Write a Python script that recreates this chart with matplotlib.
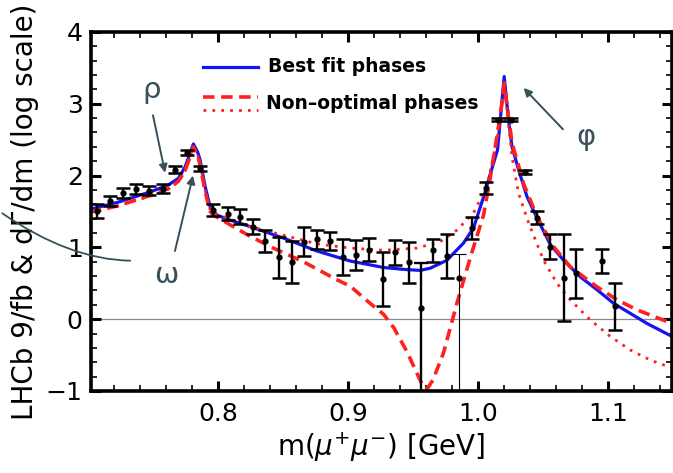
import numpy as np
import matplotlib
matplotlib.use("Agg")
import matplotlib.pyplot as plt
from matplotlib.ticker import MultipleLocator

plt.rcParams['font.family'] = ['DejaVu Sans']
plt.rcParams['axes.unicode_minus'] = True

# 데이터 점 (질량, 값, 오차)
mass = [0.7064, 0.7166, 0.7269, 0.7367, 0.7469, 0.7572, 0.7667, 0.7757, 0.7859,
        0.7960, 0.8072, 0.8167, 0.8265, 0.8360, 0.8463, 0.8565, 0.8662, 0.8762,
        0.8862, 0.8958, 0.9060, 0.9158, 0.9266, 0.9360, 0.9463, 0.9655, 0.9758,
        0.9955, 1.0058, 1.0150, 1.0250, 1.0361, 1.0451, 1.0553, 1.0656, 1.0751,
        1.0950, 1.1049]
value = [1.51, 1.65, 1.76, 1.81, 1.79, 1.82, 2.08, 2.32, 2.10,
         1.52, 1.47, 1.43, 1.29, 1.09, 0.86, 0.80, 1.08, 1.11,
         1.09, 0.87, 0.89, 0.97, 0.56, 0.93, 0.79, 0.96, 0.88,
         1.27, 1.83, 2.78, 2.78, 2.05, 1.41, 1.01, 0.58, 0.64,
         0.81, 0.18]
error = [0.10, 0.07, 0.07, 0.07, 0.06, 0.06, 0.05, 0.04, 0.04,
         0.08, 0.09, 0.10, 0.10, 0.15, 0.29, 0.29, 0.20, 0.13,
         0.13, 0.25, 0.21, 0.16, 0.37, 0.17, 0.28, 0.16, 0.30,
         0.16, 0.08, 0.02, 0.02, 0.03, 0.09, 0.17, 0.60, 0.34,
         0.17, 0.33]

# 아래쪽 오차가 축 밖으로 나가는 점
open_mass = [0.9560, 0.9855]
open_value = [0.15, 0.58]
open_up = [0.63, 0.33]
open_width = [1.7, 0.8]

# 최적 위상 곡선
best_m = [0.7012, 0.7230, 0.7487, 0.7615, 0.7692, 0.7744, 0.7780, 0.7808, 0.7840,
          0.7859, 0.7898, 0.7936, 0.7988, 0.8090, 0.8244, 0.8500, 0.8757, 0.9014,
          0.9270, 0.9450, 0.9553, 0.9630, 0.9758, 0.9886, 0.9963, 1.0040, 1.0105,
          1.0148, 1.0169, 1.0199, 1.0232, 1.0259, 1.0310, 1.0374, 1.0451, 1.0554,
          1.0656, 1.0784, 1.0913, 1.1041, 1.1170, 1.1298, 1.1490]
best_v = [1.53, 1.63, 1.78, 1.87, 1.96, 2.12, 2.30, 2.44, 2.33,
          2.22, 1.85, 1.57, 1.45, 1.38, 1.29, 1.13, 0.95, 0.81,
          0.72, 0.69, 0.68, 0.71, 0.82, 1.06, 1.27, 1.70, 2.10,
          2.36, 2.78, 3.38, 2.78, 2.40, 2.08, 1.71, 1.41, 1.04,
          0.82, 0.59, 0.41, 0.22, 0.08, -0.06, -0.24]

# 비최적 위상 곡선 1 (파선)
dash_m = [0.7012, 0.7230, 0.7487, 0.7615, 0.7692, 0.7744, 0.7780, 0.7808, 0.7840,
          0.7859, 0.7898, 0.7936, 0.7962, 0.8219, 0.8398, 0.8654, 0.8911, 0.9014,
          0.9168, 0.9270, 0.9350, 0.9450, 0.9527, 0.9578, 0.9610, 0.9650, 0.9732,
          0.9835, 0.9937, 1.0040, 1.0090, 1.0143, 1.0170, 1.0199, 1.0230, 1.0260,
          1.0348, 1.0451, 1.0579, 1.0707, 1.0913, 1.1067, 1.1221, 1.1490]
dash_v = [1.49, 1.58, 1.73, 1.82, 1.92, 2.07, 2.25, 2.40, 2.28,
          2.15, 1.78, 1.50, 1.45, 1.18, 1.01, 0.80, 0.55, 0.46,
          0.22, 0.07, -0.12, -0.45, -0.75, -0.95, -0.96, -0.85, -0.47,
          0.22, 0.85, 1.45, 1.95, 2.55, 2.85, 3.27, 2.85, 2.45,
          1.89, 1.43, 1.01, 0.73, 0.45, 0.27, 0.13, -0.06]

# 비최적 위상 곡선 2 (점선)
dot_m = [0.7012, 0.7230, 0.7487, 0.7615, 0.7692, 0.7744, 0.7780, 0.7808, 0.7840,
         0.7859, 0.7898, 0.7936, 0.7962, 0.8219, 0.8500, 0.8757, 0.9014, 0.9270,
         0.9527, 0.9707, 0.9835, 0.9963, 1.0066, 1.0143, 1.0170, 1.0199, 1.0230,
         1.0260, 1.0310, 1.0387, 1.0502, 1.0605, 1.0707, 1.0861, 1.1015, 1.1170,
         1.1324, 1.1490]
dot_v = [1.48, 1.58, 1.72, 1.81, 1.91, 2.06, 2.25, 2.40, 2.29,
         2.17, 1.80, 1.53, 1.48, 1.30, 1.17, 1.05, 0.99, 0.96,
         0.99, 1.08, 1.24, 1.48, 1.85, 2.50, 2.80, 3.30, 2.75,
         2.25, 1.75, 1.34, 0.82, 0.50, 0.27, -0.01, -0.24, -0.43,
         -0.57, -0.68]

x_ticks = [0.8, 0.9, 1.0, 1.1]
x_ticklabels = ['0.8', '0.9', '1.0', '1.1']
y_ticks = [-1, 0, 1, 2, 3, 4]

ink = '#37505a'
blue = '#1414f0'
red = '#ff2020'

fig = plt.figure(figsize=(6.73, 4.73), dpi=100)
ax = fig.add_axes([0.1352, 0.1734, 0.8633, 0.759])

ax.axhline(0, color='#8a8a8a', lw=0.9, zorder=1)

ax.plot(best_m, best_v, color=blue, lw=2.3, zorder=2)
ax.plot(dash_m, dash_v, color=red, lw=2.6, ls=(0, (3.2, 1.8)), zorder=2.2)
ax.plot(dot_m, dot_v, color=red, lw=2.0, ls=(0, (1, 2.2)), zorder=2.3)

ax.errorbar(mass, value, yerr=error, fmt='o', color='black', ms=3.5,
            elinewidth=1.7, capsize=5, capthick=1.8, zorder=3)
for m, v, up, w in zip(open_mass, open_value, open_up, open_width):
    ax.errorbar([m], [v], yerr=[[3.0], [up]], fmt='o', color='black', ms=3.5,
                elinewidth=w, capsize=5, capthick=w, zorder=3)

ax.set_xlim(0.702, 1.149)
ax.set_ylim(-1, 4)
ax.set_xticks(x_ticks)
ax.set_xticklabels(x_ticklabels)
ax.set_yticks(y_ticks)
ax.xaxis.set_minor_locator(MultipleLocator(0.02))
ax.yaxis.set_minor_locator(MultipleLocator(0.2))
ax.tick_params(which='both', direction='in', top=True, right=True,
               labelsize=18, colors='black')
ax.tick_params(which='major', length=7, width=2.2)
ax.tick_params(which='minor', length=4, width=1.2)
ax.tick_params(axis='x', pad=8)
ax.tick_params(axis='y', pad=6)
for s in ax.spines.values():
    s.set_linewidth(2.6)

ax.set_xlabel(r'm($\mu^{+}\mu^{-}$) [GeV]', fontsize=20, labelpad=3)
ax.set_ylabel('LHCb 9/fb & dΓ/dm (log scale)', fontsize=20, labelpad=5)

# 범례
ax.plot([0.193, 0.287], [0.903, 0.903], transform=ax.transAxes, color=blue, lw=2.3)
ax.plot([0.193, 0.287], [0.820, 0.820], transform=ax.transAxes, color=red,
        lw=2.6, ls=(0, (3.2, 1.8)))
ax.plot([0.193, 0.287], [0.783, 0.783], transform=ax.transAxes, color=red,
        lw=2.0, ls=(0, (1, 2.2)))
ax.text(0.305, 0.903, 'Best fit phases', transform=ax.transAxes, fontsize=13.5,
        fontweight='bold', va='center', ha='left')
ax.text(0.301, 0.802, 'Non–optimal phases', transform=ax.transAxes, fontsize=13.5,
        fontweight='bold', va='center', ha='left')

# 공명 표시
arrow = dict(arrowstyle='-|>', color=ink, lw=1.4, mutation_scale=12, shrinkA=0, shrinkB=0)
ax.text(0.7488, 3.19, 'ρ', fontsize=21, color=ink, ha='center', va='center')
ax.annotate('', xy=(0.7590, 2.04), xytext=(0.7497, 2.84), arrowprops=arrow)
ax.text(0.7603, 0.62, 'ω', fontsize=21, color=ink, ha='center', va='center')
ax.annotate('', xy=(0.7805, 2.00), xytext=(0.7666, 0.95), arrowprops=arrow)
ax.text(1.0831, 2.54, 'φ', fontsize=21, color=ink, ha='center', va='center')
ax.annotate('', xy=(1.0348, 3.22), xytext=(1.0651, 2.645), arrowprops=arrow)

# 왼쪽의 곡선 선
fig.patches.append(matplotlib.patches.FancyArrowPatch(
    (0.0, 1 - 211.7 / 473), (133 / 673, 1 - 260.7 / 473),
    transform=fig.transFigure, arrowstyle='-', color=ink, lw=1.3,
    connectionstyle='angle3,angleA=-35,angleB=0', figure=fig))

fig.savefig('out.png', dpi=100)
